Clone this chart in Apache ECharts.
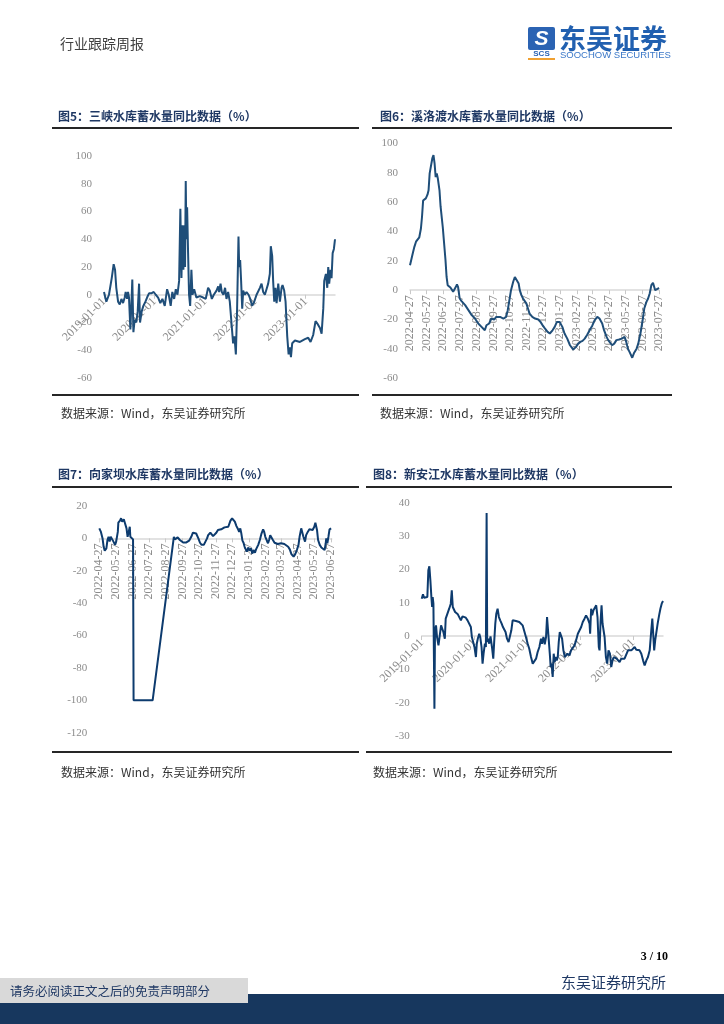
<!DOCTYPE html>
<html>
<head>
<meta charset="utf-8">
<script src="https://cdn.jsdelivr.net/npm/echarts@6/dist/echarts.min.js"></script>
<style>
html,body{margin:0;padding:0;background:#fff;}
#main{width:724px;height:1024px;}
</style>
</head>
<body>
<div id="main"></div>
<script>
// ---------- DATA (x = days after the base date, y = % yoy) ----------
// 图5 三峡 (base 2019-01-01)
const sxDays = [0,17,36,56,70,80,89,102,114,126,138,150,157,167,174,181,191,201,205,213,222,234,244,254,261,273,285,300,312,326,343,360,375,392,408,423,440,457,469,483,495,508,520,532,544,553,561,568,575,583,587,592,597,602,609,616,624,633,641,653,669,694,718,737,754,766,781,795,815,827,834,844,853,865,877,887,899,911,923,935,945,955,964,974,979,986,993,1001,1008,1020,1032,1047,1059,1073,1088,1105,1129,1141,1153,1165,1177,1189,1201,1208,1218,1225,1233,1242,1250,1262,1274,1286,1293,1305,1315,1327,1337,1346,1354,1363,1383,1419,1455,1479,1496,1515,1532,1547,1564,1576,1588,1595,1607,1617,1624,1631,1641,1648,1656,1665,1673];
const sxVals = [2,-5,0,12,22,18,5,-5,-7,-3,-6,-2,2,-3,2,-2,-25,0,11,-27,-18,-20,-12,8,-20,-12,-8,-5,-2,1,1,2,0,-2,-6,-3,-8,4,0,-8,2,-3,4,0,10,62,12,50,18,50,20,82,40,63,30,0,-8,18,0,4,-2,-1,-2,-3,5,3,-3,0,3,6,2,8,2,0,5,-3,2,-5,-20,-35,-30,-43,-10,42,20,25,10,-10,3,0,2,0,-3,-8,-5,0,5,8,2,0,4,8,15,35,28,10,-5,5,-6,8,-5,5,7,3,-5,-30,-43,-38,-45,-35,-33,-34,-32,-31,-34,-29,-19,-21,-24,-28,-10,10,15,5,20,8,18,12,30,33,40];

// 图6 溪洛渡 (base 2022-04-27)
const xldDays = [0,2,5,8,11,14,17,20,22,24,27,29,32,34,36,38,41,43,45,47,49,51,54,56,60,62,65,67,69,72,74,77,79,81,84,86,88,91,94,101,107,113,119,125,131,137,140,145,149,154,158,165,171,176,179,182,185,189,192,195,199,201,204,207,210,213,216,219,224,229,235,239,243,247,252,256,261,265,269,274,279,283,288,293,299,304,308,312,316,320,324,329,334,338,343,347,352,355,360,363,366,370,374,378,383,388,393,396,399,402,407,410,415,418,422,426,429,433,436,439,442,445,447,449,451,454,456];
const xldVals = [17,17.5,25,29.5,33,33,36,42,50,61,61,62.5,65,68,79.5,80.7,90,92,86.4,77,79.5,76,68,57,43,34,20.5,9,3.4,2.7,1.8,0.5,-1,-2,2.3,3.9,2.3,-5.7,-7.3,-10.2,-13.6,-17,-19.3,-22.7,-25,-27.3,-23.9,-22.7,-19.3,-20,-18.2,-18.2,-19.3,-18.2,-13.6,-6.8,0,5.7,9,8,4.5,0,-3.4,-5.7,-6.8,-9,-12.5,-16,-18.2,-19.3,-20,-21.6,-24,-26,-28.4,-29.5,-27.3,-25,-21.6,-21.6,-25,-29.5,-33,-37.5,-40.5,-38.6,-36.4,-35.2,-34.5,-33,-30.7,-27.3,-24,-20.5,-18.2,-19.3,-22.7,-26.8,-31.8,-34,-35.2,-37.5,-36.4,-34,-33.6,-33,-31.8,-35.2,-39.8,-42,-46,-43,-39.8,-36.4,-29.5,-20.5,-12.5,-8,-5.7,-2.3,3.4,5,4.5,0,-1.1,1.1,1.6];

// 图7 向家坝 (base 2022-04-27)
const xjbDays = [0,1,3,6,8,10,13,15,17,19,21,24,26,29,31,34,35,38,40,42,45,47,50,52,54,56,57,60,62,63,98,137,139,142,144,148,151,154,160,165,169,172,175,178,182,185,188,192,195,198,200,204,207,209,212,215,218,221,224,227,230,233,237,240,241,244,246,249,252,255,257,259,261,263,265,267,269,271,274,276,279,281,284,286,288,292,295,298,301,303,305,307,310,312,314,317,319,322,325,328,331,334,337,340,343,347,350,353,357,360,363,366,368,371,373,375,378,380,383,386,389,392,395,397,400,402,405,408,411,414,416,417,419,421,423,426];
const xjbVals = [6.2,6.2,4,0,-5.2,-7.6,-6.2,-1,1,-2,1,0,-2,-4,-2,4,9.7,11,12.4,10.3,11.8,11,6.2,1,4,7.2,1,1,-0.6,-100,-100,1,-0.6,-0.6,0.6,-1,-2,-2.5,-2.5,-1.4,1,3.5,4,3,0,-2.7,-4,-4,-3,0,2,3.5,4,1.4,2,3.5,5.2,4,5.6,5.2,6.8,6.2,7.2,7.6,11,12.4,13.4,10.3,7.6,5.6,4,6.2,3,-1.4,-2.7,-5.2,-4,-8.2,-5.6,-7.6,-6.2,-9.3,-7.2,-8.9,-6.8,-4,-1,3,5.6,4,1,1.4,-3,-1,2,1,-1,-2.7,-2,-3.5,-2.7,-3,-2,-3.5,-4,-5.2,-6.8,-9.7,-11.3,-9.7,-7.2,-4,1,6.2,5.2,1,-2,2,4,5.6,6.6,5.2,7.2,9.7,5.2,-1,-4,-5.6,-5.2,-7.2,-3,0,-3,1,5.6,6.2];

// 图8 新安江 (base 2019-01-01)
const xajDays = [0,5,9,16,28,39,46,53,60,67,72,76,81,88,92,99,106,116,125,134,141,150,160,166,178,190,201,208,215,222,231,240,250,259,271,282,294,305,317,328,340,347,356,365,375,381,388,398,405,414,421,428,437,444,449,453,460,467,476,486,495,502,509,516,525,534,543,553,562,571,580,590,601,610,620,629,640,652,664,675,687,698,710,721,733,744,756,768,779,791,802,814,825,832,842,851,860,867,872,879,886,892,899,906,913,920,927,934,941,948,955,962,971,980,990,999,1008,1022,1033,1045,1057,1068,1080,1091,1103,1114,1126,1137,1149,1161,1165,1172,1179,1188,1198,1207,1216,1225,1230,1237,1244,1251,1258,1265,1274,1283,1292,1302,1311,1320,1329,1339,1348,1357,1369,1380,1392,1403,1415,1427,1438,1450,1461,1473,1484,1496,1507,1519,1531,1542,1554,1565,1577,1588,1595,1602,1608,1615,1622,1632,1642,1651,1660,1669];
const xajVals = [11.2,11.2,12.5,11.5,11.7,11.7,19.7,20.9,16.7,11.7,8.7,11.7,9.7,-21.8,1.7,3.2,-0.3,-2.8,-2.3,3.2,3.7,1.2,-0.8,5.2,6.7,8.2,9.7,13.7,8.7,9.2,7.2,6.7,6.5,6.2,4.7,5.9,5.9,5.5,4.7,4.2,2.7,-0.3,-0.8,-3.3,-6.3,-2.3,-0.8,0.7,-0.3,-3.3,-8.3,-5.3,-2.3,-3.3,36.9,-1.8,-0.8,-2.3,-0.1,-3.3,-6.8,-1.3,3.7,6.7,8.2,5.7,4.7,3.7,2.7,2.5,1.2,-0.8,-1.8,-1.5,1.7,4.7,4.7,4.5,4.4,4.2,3.9,3.2,2.7,-0.3,-2.3,-3.8,-6.3,-8.3,-7.8,-6.8,-4.8,-3.3,-0.8,-2.3,-0.3,-2.5,-0.3,5.7,5.9,-1.3,-5.3,-9.3,-8.3,-12.3,-5.3,-7.8,-6.3,-7.3,-6.3,-1.8,1.2,0.7,-0.8,-4.3,-6.3,-5.8,-5.3,-5.8,-4.3,-3.8,-2.8,-1.3,0.7,1.2,2.7,4.2,5.2,6.2,5.2,3.7,0.7,8.2,6.2,7.7,7.2,9.2,5.7,-3.3,-4.3,4.2,9.2,3.7,4.2,-0.3,-6.3,-8.3,-4.3,-5.3,-9.3,-7.3,-6.3,-5.8,-6.8,-7.3,-7.8,-6.8,-7.3,-6.8,-6.3,-4.3,-3.8,-4.3,-3.8,-3.3,-4.1,-3.8,-4.3,-5.3,-7.3,-8.8,-7.3,-6.3,-4.3,1.7,5.2,5.7,-4.3,-1.3,-1.8,3.7,6.2,8.2,9.7,10.5];

// tick labels
const yearTicks = ['2019-01-01','2020-01-01','2021-01-01','2022-01-01','2023-01-01'];
const monthTicks6 = ['2022-04-27','2022-05-27','2022-06-27','2022-07-27','2022-08-27','2022-09-27','2022-10-27','2022-11-27','2022-12-27','2023-01-27','2023-02-27','2023-03-27','2023-04-27','2023-05-27','2023-06-27','2023-07-27'];
const monthTicks7 = ['2022-04-27','2022-05-27','2022-06-27','2022-07-27','2022-08-27','2022-09-27','2022-10-27','2022-11-27','2022-12-27','2023-01-27','2023-02-27','2023-03-27','2023-04-27','2023-05-27','2023-06-27'];

const titles = ['图5：三峡水库蓄水量同比数据（%）','图6：溪洛渡水库蓄水量同比数据（%）','图7：向家坝水库蓄水量同比数据（%）','图8：新安江水库蓄水量同比数据（%）'];
const sourceText = '数据来源：Wind，东吴证券研究所';

// ---------- helpers ----------
function parseD(s){const p=s.split('-').map(Number);return new Date(p[0],p[1]-1,p[2]);}
function ts(base, d){const b=parseD(base);return new Date(b.getFullYear(),b.getMonth(),b.getDate()+d).getTime();}
function pairs(base, days, vals){return days.map((d,i)=>[ts(base,d),vals[i]]);}
function fmt(v){const d=new Date(v);const m=d.getMonth()+1, dd=d.getDate();return d.getFullYear()+'-'+(m<10?'0':'')+m+'-'+(dd<10?'0':'')+dd;}

const serif = '"Liberation Serif","Times New Roman",serif';
const cjk = '"Noto Sans CJK SC","Noto Sans",sans-serif';

const grids = [
  {left:104,top:156,width:231,height:222},
  {left:410,top:143.3,width:249,height:235},
  {left:99.3,top:506,width:232.4,height:226.7},
  {left:421.7,top:502.7,width:241.3,height:233.3}
];
const yRanges = [[-60,100,20],[-60,100,20],[-120,20,20],[-30,40,10]];

function xAxisCfg(idx, minD, maxD, ticks, rot){
  const tv = ticks.map(s=>parseD(s).getTime());
  const r = yRanges[idx];
  // move the whole date axis (line, ticks, labels) up to the y = 0 level
  const off = -(0 - r[0])/(r[1]-r[0]) * grids[idx].height;
  return {
    type:'value', gridIndex:idx, min:minD, max:maxD, scale:true, position:'bottom', offset:off,
    axisLine:{show:true,onZero:false,lineStyle:{color:'#d9d9d9',width:1.5}},
    axisTick:{show:true,customValues:tv,length:4,lineStyle:{color:'#c8c8c8'}},
    axisLabel:{customValues:tv,rotate:rot,margin:5,fontFamily:serif,fontSize:12,color:'#8c8c8c',formatter:fmt,hideOverlap:false,showMinLabel:true,showMaxLabel:true},
    splitLine:{show:false}
  };
}
function yAxisCfg(idx){
  const r = yRanges[idx];
  return {type:'value',gridIndex:idx,min:r[0],max:r[1],interval:r[2],
    axisLine:{show:false},axisTick:{show:false},splitLine:{show:false},
    axisLabel:{fontFamily:serif,fontSize:11,color:'#8c8c8c',margin:12}};
}
function lineSeries(idx,data,color){
  return {type:'line',xAxisIndex:idx,yAxisIndex:idx,data:data,showSymbol:false,symbol:'none',
    lineStyle:{color:color,width:2},itemStyle:{color:color},z:3};
}

const chart = echarts.init(document.getElementById('main'),null,{renderer:'canvas'});

const g = [];
function txt(x,y,text,font,fill,align,extra){g.push(Object.assign({type:'text',x:x,y:y,silent:true,style:{text:text,font:font,fill:fill,align:align||'left',verticalAlign:'middle'}},extra||{}));}
function hline(x1,x2,y,w,c){g.push({type:'line',silent:true,shape:{x1:x1,y1:y,x2:x2,y2:y},style:{stroke:c,lineWidth:w}});}

// header
txt(60,44,'行业跟踪周报','14px '+cjk,'#404040');
// logo
g.push({type:'rect',silent:true,shape:{x:528,y:27,width:27,height:23,r:2},style:{fill:'#2b63b3'}});
txt(541.5,39,'S','italic bold 21px "Liberation Sans",sans-serif','#ffffff','center');
txt(541.5,54,'SCS','bold 8px "Liberation Sans",sans-serif','#2b63b3','center');
g.push({type:'rect',silent:true,shape:{x:528,y:58,width:27,height:2},style:{fill:'#f0a030'}});
txt(559,39,'东吴证券','bold 27px '+cjk,'#2160b0');
txt(560,55,'SOOCHOW SECURITIES','9.5px "Liberation Sans",sans-serif','#3b78c8');

// panel titles, rules, sources
txt(58,116,titles[0],'bold 12px '+cjk,'#1f3864');
txt(380,116,titles[1],'bold 12px '+cjk,'#1f3864');
txt(58,474,titles[2],'bold 12px '+cjk,'#1f3864');
txt(373,474,titles[3],'bold 12px '+cjk,'#1f3864');
hline(52,359,128,2,'#262626'); hline(372,672,128,2,'#262626');
hline(52,359,395,2,'#262626'); hline(372,672,395,2,'#262626');
hline(52,359,487,2,'#262626'); hline(366,672,487,2,'#262626');
hline(52,359,752,2,'#262626'); hline(366,672,752,2,'#262626');
txt(61,413,sourceText,'12px '+cjk,'#333333');
txt(380,413,sourceText,'12px '+cjk,'#333333');
txt(61,772,sourceText,'12px '+cjk,'#333333');
txt(373,772,sourceText,'12px '+cjk,'#333333');

// footer
txt(668,957,'3 / 10','bold 12px '+serif,'#000000','right');
g.push({type:'rect',silent:true,shape:{x:0,y:994,width:724,height:30},style:{fill:'#17375e'},z:1});
g.push({type:'rect',silent:true,shape:{x:0,y:978,width:248,height:25},style:{fill:'#d9d9d9'},z:2});
txt(10,991,'请务必阅读正文之后的免责声明部分','12.5px '+cjk,'#1f3864','left',{z:3});
txt(561,982,'东吴证券研究所','15px '+cjk,'#1f3864');

const option = {
  animation:false,
  backgroundColor:'#ffffff',
  grid:grids,
  xAxis:[
    xAxisCfg(0, ts('2019-01-01',0), ts('2019-01-01',1673), yearTicks, 45),
    xAxisCfg(1, ts('2022-04-27',0), ts('2022-04-27',456), monthTicks6, 90),
    xAxisCfg(2, ts('2022-04-27',0), ts('2022-04-27',427), monthTicks7, 90),
    xAxisCfg(3, ts('2019-01-01',0), ts('2019-01-01',1669), yearTicks, 45)
  ],
  yAxis:[yAxisCfg(0),yAxisCfg(1),yAxisCfg(2),yAxisCfg(3)],
  series:[
    lineSeries(0,pairs('2019-01-01',sxDays,sxVals),'#1f4e79'),
    lineSeries(1,pairs('2022-04-27',xldDays,xldVals),'#1f4e79'),
    lineSeries(2,pairs('2022-04-27',xjbDays,xjbVals),'#0d3b6e'),
    lineSeries(3,pairs('2019-01-01',xajDays,xajVals),'#0d3b6e')
  ],
  graphic:{elements:g}
};
chart.setOption(option);
</script>
</body>
</html>
